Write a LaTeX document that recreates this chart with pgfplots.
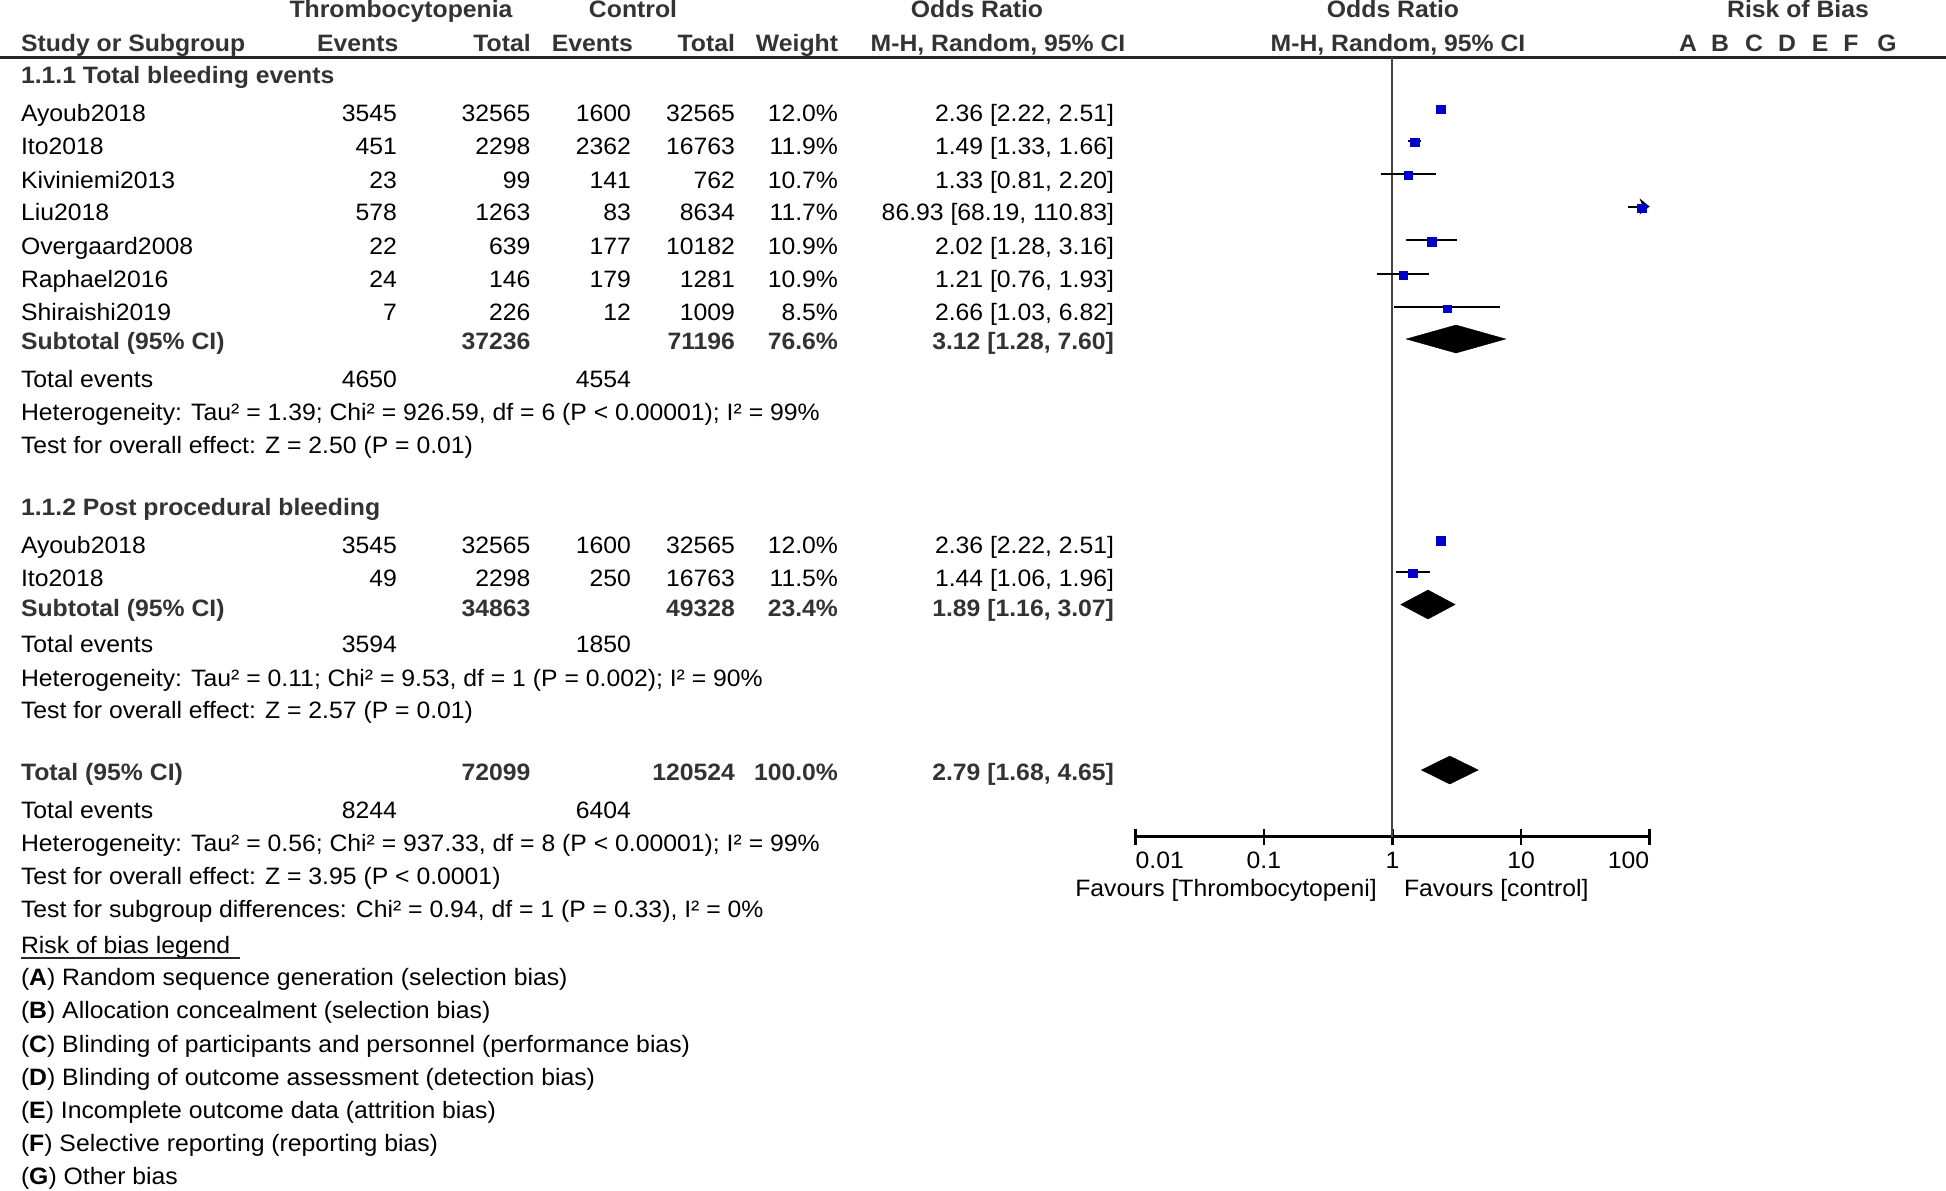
\documentclass[border=0pt]{standalone}
\usepackage{pgfplots}
\pgfplotsset{compat=1.18}
\usepackage{fontspec}
\setmainfont[FakeStretch=1.045]{Liberation Sans}
\usetikzlibrary{arrows.meta}
\definecolor{hdr}{HTML}{333333}
\definecolor{sqblue}{RGB}{0,0,200}
\definecolor{vline}{HTML}{444444}
\newcommand\fs{\fontsize{11.85pt}{14pt}\selectfont}
% study row: y, name, e1, t1, e2, t2, weight, OR text
\newcommand\srow[8]{%
  \node[anchor=base west] at (21,#1) {#2};
  \node[anchor=base east] at (397,#1) {#3};
  \node[anchor=base east] at (530.5,#1) {#4};
  \node[anchor=base east] at (631,#1) {#5};
  \node[anchor=base east] at (735,#1) {#6};
  \node[anchor=base east] at (838,#1) {#7};
  \node[anchor=base east] at (1114,#1) {#8};}
\newcommand\subrow[6]{% y, name, t1, t2, weight, OR
  \begin{scope}[every node/.append style={font=\fs\bfseries, text=hdr}]
  \node[anchor=base west] at (21,#1) {#2};
  \node[anchor=base east] at (530.5,#1) {#3};
  \node[anchor=base east] at (735,#1) {#4};
  \node[anchor=base east] at (838,#1) {#5};
  \node[anchor=base east] at (1114,#1) {#6};
  \end{scope}}
\newcommand\evrow[3]{% y, e1, e2
  \node[anchor=base west] at (21,#1) {Total events};
  \node[anchor=base east] at (397,#1) {#2};
  \node[anchor=base east] at (631,#1) {#3};}
\newcommand\lrow[2]{\node[anchor=base west] at (21,#1) {#2};}
\begin{document}
\begin{tikzpicture}
\begin{scope}[x=0.5pt,y=-0.5pt, every node/.style={inner sep=0pt, outer sep=0pt, font=\fs}]
\path[use as bounding box] (0,0) rectangle (1946,1190);
\fill[black!85] (0,55.8) rectangle (1946,58.8);
% headers
\begin{scope}[every node/.append style={font=\fs\bfseries, text=hdr}]
\node[anchor=base] at (401,17) {Thrombocytopenia};
\node[anchor=base] at (633,17) {Control};
\node[anchor=base] at (977,17) {Odds Ratio};
\node[anchor=base] at (1393,17) {Odds Ratio};
\node[anchor=base] at (1798,17) {Risk of Bias};
\node[anchor=base west] at (21,51.5) {Study or Subgroup};
\node[anchor=base east] at (398.3,51.5) {Events};
\node[anchor=base east] at (530.7,51.5) {Total};
\node[anchor=base east] at (633,51.5) {Events};
\node[anchor=base east] at (735,51.5) {Total};
\node[anchor=base east] at (838,51.5) {Weight};
\node[anchor=base] at (998,51.5) {M-H, Random, 95\% CI};
\node[anchor=base] at (1398,51.5) {M-H, Random, 95\% CI};
\node[anchor=base] at (1688,51.5) {A};
\node[anchor=base] at (1720,51.5) {B};
\node[anchor=base] at (1754,51.5) {C};
\node[anchor=base] at (1787,51.5) {D};
\node[anchor=base] at (1820,51.5) {E};
\node[anchor=base] at (1851,51.5) {F};
\node[anchor=base] at (1887,51.5) {G};
\node[anchor=base west] at (21,83.5) {1.1.1 Total bleeding events};
\node[anchor=base west] at (21,515) {1.1.2 Post procedural bleeding};
\end{scope}
\srow{121.7}{Ayoub2018}{3545}{32565}{1600}{32565}{12.0\%}{2.36 [2.22, 2.51]}
\srow{154.7}{Ito2018}{451}{2298}{2362}{16763}{11.9\%}{1.49 [1.33, 1.66]}
\srow{188}{Kiviniemi2013}{23}{99}{141}{762}{10.7\%}{1.33 [0.81, 2.20]}
\srow{220.7}{Liu2018}{578}{1263}{83}{8634}{11.7\%}{86.93 [68.19, 110.83]}
\srow{254.4}{Overgaard2008}{22}{639}{177}{10182}{10.9\%}{2.02 [1.28, 3.16]}
\srow{287.7}{Raphael2016}{24}{146}{179}{1281}{10.9\%}{1.21 [0.76, 1.93]}
\srow{320.5}{Shiraishi2019}{7}{226}{12}{1009}{8.5\%}{2.66 [1.03, 6.82]}
\subrow{349.5}{Subtotal (95\% CI)}{37236}{71196}{76.6\%}{3.12 [1.28, 7.60]}
\evrow{387}{4650}{4554}
\lrow{420.5}{Heterogeneity: Tau² = 1.39; Chi² = 926.59, df = 6 (P < 0.00001); I² = 99\%}
\lrow{453}{Test for overall effect: Z = 2.50 (P = 0.01)}
\srow{553}{Ayoub2018}{3545}{32565}{1600}{32565}{12.0\%}{2.36 [2.22, 2.51]}
\srow{586}{Ito2018}{49}{2298}{250}{16763}{11.5\%}{1.44 [1.06, 1.96]}
\subrow{616}{Subtotal (95\% CI)}{34863}{49328}{23.4\%}{1.89 [1.16, 3.07]}
\evrow{652.6}{3594}{1850}
\lrow{686}{Heterogeneity: Tau² = 0.11; Chi² = 9.53, df = 1 (P = 0.002); I² = 90\%}
\lrow{718.5}{Test for overall effect: Z = 2.57 (P = 0.01)}
\subrow{780.5}{Total (95\% CI)}{72099}{120524}{100.0\%}{2.79 [1.68, 4.65]}
\evrow{818.5}{8244}{6404}
\lrow{851}{Heterogeneity: Tau² = 0.56; Chi² = 937.33, df = 8 (P < 0.00001); I² = 99\%}
\lrow{884}{Test for overall effect: Z = 3.95 (P < 0.0001)}
\lrow{917}{Test for subgroup differences: Chi² = 0.94, df = 1 (P = 0.33), I² = 0\%}
\lrow{953}{Risk of bias legend}
\draw[line width=1pt, black!85] (21,957.5) -- (240,957.5);
\lrow{985}{(\textbf{A}) Random sequence generation (selection bias)}
\lrow{1018.5}{(\textbf{B}) Allocation concealment (selection bias)}
\lrow{1052}{(\textbf{C}) Blinding of participants and personnel (performance bias)}
\lrow{1085}{(\textbf{D}) Blinding of outcome assessment (detection bias)}
\lrow{1118}{(\textbf{E}) Incomplete outcome data (attrition bias)}
\lrow{1151}{(\textbf{F}) Selective reporting (reporting bias)}
\lrow{1184}{(\textbf{G}) Other bias}
\node[anchor=base east] at (1376.7,896) {Favours [Thrombocytopeni]};
\node[anchor=base west] at (1404,896) {Favours [control]};
\end{scope}
\begin{axis}[
  xmode=log, xmin=0.01, xmax=100, ymin=-836.7, ymax=-57.3,
  scale only axis, width=257.15pt, height=389.7pt,
  at={(567.65pt,-418.35pt)}, anchor=south west,
  axis x line*=bottom, axis y line=none,
  xtick={0.01,0.1,1,10,100}, xticklabels={}, xminorticks=false,
  major tick length=8pt, tick align=center,
  every tick/.append style={black, line width=1.2pt},
  x axis line style={-, line width=1.3pt, black},
  clip=false,
]
% line of no effect
\addplot[vline, line width=1pt] coordinates {(1,-57.3) (1,-836.7)};
% confidence intervals
\addplot[black, line width=1pt] coordinates {(2.22,-107.5) (2.51,-107.5)};
\addplot[black, line width=1pt] coordinates {(1.33,-140.5) (1.66,-140.5)};
\addplot[black, line width=1pt] coordinates {(0.81,-173.5) (2.20,-173.5)};
\addplot[black, line width=1pt, -{Stealth[length=5pt,width=8pt]}] coordinates {(68.19,-206.5) (100,-206.5)};
\addplot[black, line width=1pt] coordinates {(1.28,-240) (3.16,-240)};
\addplot[black, line width=1pt] coordinates {(0.76,-273.5) (1.93,-273.5)};
\addplot[black, line width=1pt] coordinates {(1.03,-306.5) (6.82,-306.5)};
\addplot[black, line width=1pt] coordinates {(2.22,-538.8) (2.51,-538.8)};
\addplot[black, line width=1pt] coordinates {(1.06,-571.8) (1.96,-571.8)};
% study estimates (square size ~ weight)
\pgfplotsset{sq/.style={only marks, mark=square*, mark options={fill=sqblue, draw=sqblue, line width=0.1pt}}}
\addplot[sq, mark size=2.17pt] coordinates {(2.36,-109)};
\addplot[sq, mark size=2.17pt] coordinates {(1.49,-142)};
\addplot[sq, mark size=2.05pt] coordinates {(1.33,-175.3)};
\addplot[sq, mark size=2.15pt] coordinates {(86.93,-208)};
\addplot[sq, mark size=2.07pt] coordinates {(2.02,-241.7)};
\addplot[sq, mark size=2.07pt] coordinates {(1.21,-275)};
\addplot[sq, mark size=1.83pt] coordinates {(2.66,-308.3)};
\addplot[sq, mark size=2.17pt] coordinates {(2.36,-540.3)};
\addplot[sq, mark size=2.13pt] coordinates {(1.44,-573.3)};
% pooled diamonds
\addplot[fill=black, draw=black, line width=0.2pt] coordinates {(1.28,-339) (3.12,-325) (7.60,-339) (3.12,-353)} -- cycle;
\addplot[fill=black, draw=black, line width=0.2pt] coordinates {(1.16,-604.5) (1.89,-590) (3.07,-604.5) (1.89,-619)} -- cycle;
\addplot[fill=black, draw=black, line width=0.2pt] coordinates {(1.68,-770) (2.79,-756) (4.65,-770) (2.79,-784)} -- cycle;
% tick labels
\node[anchor=base west, inner sep=0pt, font=\fs] at (axis cs:0.01,-868.3) {0.01};
\node[anchor=base, inner sep=0pt, font=\fs] at (axis cs:0.1,-868.3) {0.1};
\node[anchor=base, inner sep=0pt, font=\fs] at (axis cs:1,-868.3) {1};
\node[anchor=base, inner sep=0pt, font=\fs] at (axis cs:10,-868.3) {10};
\node[anchor=base east, inner sep=0pt, font=\fs] at (axis cs:100,-868.3) {100};
\end{axis}
\end{tikzpicture}
\end{document}
